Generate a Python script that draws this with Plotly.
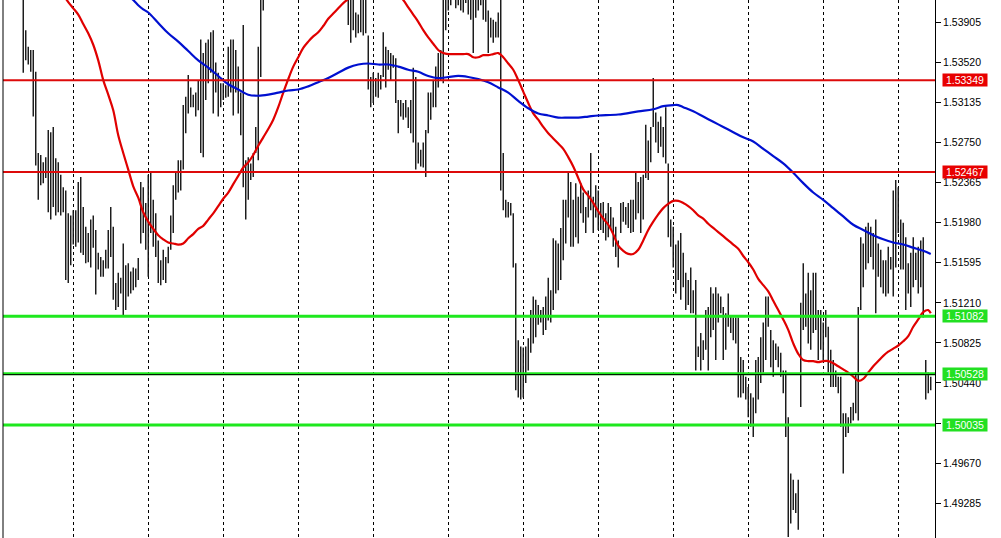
import plotly.graph_objects as go

# ---- price bars (high / low per bar) ----
HIGH = [
    1.5448, 1.5452, 1.5446, 1.5450, 1.5444, 1.5440, 1.5445, 1.5438, 1.5436, 1.5440,
    1.5431, 1.5383, 1.5367, 1.5364, 1.5364, 1.5343, 1.5265, 1.5263, 1.5256, 1.5261,
    1.5287, 1.5285, 1.5290, 1.5260, 1.5256, 1.5244, 1.5232, 1.5229, 1.5207, 1.5205,
    1.5210, 1.5210, 1.5237, 1.5242, 1.5213, 1.5194, 1.5188, 1.5201, 1.5205, 1.5191,
    1.5169, 1.5165, 1.5162, 1.5172, 1.5191, 1.5213, 1.5194, 1.5140, 1.5150, 1.5145,
    1.5178, 1.5157, 1.5159, 1.5151, 1.5155, 1.5154, 1.5164, 1.5237, 1.5232, 1.5217,
    1.5244, 1.5246, 1.5220, 1.5207, 1.5181, 1.5162, 1.5172, 1.5165, 1.5175, 1.5205,
    1.5234, 1.5246, 1.5258, 1.5258, 1.5311, 1.5319, 1.5340, 1.5328, 1.5321, 1.5323,
    1.5335, 1.5374, 1.5361, 1.5371, 1.5374, 1.5381, 1.5383, 1.5352, 1.5342, 1.5332,
    1.5332, 1.5330, 1.5367, 1.5374, 1.5374, 1.5364, 1.5348, 1.5323, 1.5388, 1.5258,
    1.5261, 1.5255, 1.5265, 1.5290, 1.5367, 1.5418, 1.5440, 1.5452, 1.5460, 1.5471,
    1.5478, 1.5490, 1.5486, 1.5495, 1.5502, 1.5498, 1.5510, 1.5505, 1.5512, 1.5508,
    1.5500, 1.5496, 1.5503, 1.5492, 1.5488, 1.5494, 1.5485, 1.5479, 1.5483, 1.5472,
    1.5468, 1.5474, 1.5465, 1.5458, 1.5462, 1.5455, 1.5450, 1.5456, 1.5449, 1.5446,
    1.5440, 1.5436, 1.5432, 1.5400, 1.5398, 1.5430, 1.5425, 1.5428, 1.5378, 1.5338,
    1.5342, 1.5337, 1.5342, 1.5340, 1.5381, 1.5367, 1.5364, 1.5361, 1.5359, 1.5356,
    1.5316, 1.5316, 1.5313, 1.5316, 1.5309, 1.5316, 1.5347, 1.5338, 1.5275, 1.5268,
    1.5275, 1.5287, 1.5323, 1.5323, 1.5335, 1.5348, 1.5361, 1.5364, 1.5430, 1.5438,
    1.5442, 1.5445, 1.5450, 1.5440, 1.5446, 1.5441, 1.5437, 1.5443, 1.5436, 1.5432,
    1.5428, 1.5430, 1.5436, 1.5440, 1.5431, 1.5429, 1.5402, 1.5395, 1.5393, 1.5391,
    1.5400, 1.5415, 1.5265, 1.5220, 1.5218, 1.5217, 1.5207, 1.5159, 1.5085, 1.5079,
    1.5078, 1.5079, 1.5087, 1.5114, 1.5127, 1.5124, 1.5119, 1.5114, 1.5117, 1.5127,
    1.5145, 1.5133, 1.5183, 1.5181, 1.5178, 1.5193, 1.5220, 1.5220, 1.5246, 1.5237,
    1.5220, 1.5236, 1.5223, 1.5236, 1.5227, 1.5213, 1.5229, 1.5265, 1.5223, 1.5234,
    1.5229, 1.5217, 1.5218, 1.5207, 1.5217, 1.5213, 1.5203, 1.5194, 1.5181, 1.5217,
    1.5218, 1.5213, 1.5217, 1.5220, 1.5220, 1.5247, 1.5237, 1.5242, 1.5244, 1.5292,
    1.5277, 1.5290, 1.5337, 1.5304, 1.5295, 1.5300, 1.5290, 1.5309, 1.5255, 1.5201,
    1.5194, 1.5177, 1.5181, 1.5188, 1.5169, 1.5150, 1.5143, 1.5155, 1.5133, 1.5143,
    1.5079, 1.5092, 1.5085, 1.5114, 1.5117, 1.5136, 1.5130, 1.5136, 1.5130, 1.5127,
    1.5117, 1.5111, 1.5130, 1.5109, 1.5107, 1.5107, 1.5107, 1.5069, 1.5066, 1.5050,
    1.5040, 1.5034, 1.5030, 1.5066, 1.5069, 1.5088, 1.5102, 1.5127, 1.5127, 1.5095,
    1.5085, 1.5082, 1.5079, 1.5073, 1.5056, 1.5056, 1.5011, 1.4957, 1.4951, 1.4938,
    1.4951, 1.5121, 1.5159, 1.5130, 1.5150, 1.5133, 1.5150, 1.5150, 1.5114, 1.5114,
    1.5102, 1.5114, 1.5098, 1.5076, 1.5066, 1.5056, 1.5050, 1.5050, 1.5015, 1.5015,
    1.5011, 1.5021, 1.5025, 1.5054, 1.5117, 1.5184, 1.5178, 1.5194, 1.5198, 1.5194,
    1.5188, 1.5201, 1.5178, 1.5172, 1.5162, 1.5162, 1.5175, 1.5165, 1.5229, 1.5239,
    1.5232, 1.5201, 1.5198, 1.5184, 1.5159, 1.5169, 1.5184, 1.5169, 1.5175, 1.5181,
    1.5184, 1.5066, 1.5054, 1.5050,
]
LOW = [
    1.5421, 1.5425, 1.5420, 1.5426, 1.5418, 1.5419, 1.5422, 1.5416, 1.5415, 1.5414,
    1.5342, 1.5354, 1.5350, 1.5343, 1.5300, 1.5253, 1.5220, 1.5234, 1.5236, 1.5241,
    1.5208, 1.5201, 1.5213, 1.5205, 1.5208, 1.5205, 1.5208, 1.5143, 1.5140, 1.5157,
    1.5177, 1.5175, 1.5179, 1.5169, 1.5167, 1.5159, 1.5160, 1.5155, 1.5174, 1.5129,
    1.5153, 1.5146, 1.5146, 1.5154, 1.5154, 1.5165, 1.5124, 1.5114, 1.5117, 1.5130,
    1.5109, 1.5114, 1.5127, 1.5130, 1.5133, 1.5136, 1.5143, 1.5178, 1.5188, 1.5172,
    1.5146, 1.5188, 1.5175, 1.5165, 1.5140, 1.5138, 1.5143, 1.5140, 1.5159, 1.5172,
    1.5188, 1.5220, 1.5227, 1.5229, 1.5249, 1.5284, 1.5303, 1.5309, 1.5309, 1.5300,
    1.5306, 1.5265, 1.5261, 1.5316, 1.5332, 1.5342, 1.5303, 1.5323, 1.5300, 1.5309,
    1.5316, 1.5318, 1.5319, 1.5323, 1.5301, 1.5323, 1.5303, 1.5282, 1.5232, 1.5201,
    1.5220, 1.5239, 1.5242, 1.5265, 1.5258, 1.5338, 1.5402, 1.5416, 1.5428, 1.5440,
    1.5449, 1.5455, 1.5458, 1.5466, 1.5470, 1.5468, 1.5475, 1.5479, 1.5482, 1.5474,
    1.5470, 1.5463, 1.5471, 1.5462, 1.5455, 1.5460, 1.5452, 1.5448, 1.5450, 1.5443,
    1.5436, 1.5440, 1.5432, 1.5427, 1.5430, 1.5424, 1.5421, 1.5425, 1.5419, 1.5417,
    1.5388, 1.5371, 1.5383, 1.5376, 1.5380, 1.5381, 1.5378, 1.5380, 1.5326, 1.5309,
    1.5313, 1.5319, 1.5318, 1.5326, 1.5338, 1.5328, 1.5345, 1.5335, 1.5347, 1.5313,
    1.5284, 1.5300, 1.5297, 1.5299, 1.5289, 1.5284, 1.5275, 1.5249, 1.5255, 1.5252,
    1.5251, 1.5242, 1.5284, 1.5297, 1.5309, 1.5309, 1.5328, 1.5335, 1.5332, 1.5383,
    1.5402, 1.5407, 1.5418, 1.5404, 1.5407, 1.5402, 1.5400, 1.5409, 1.5398, 1.5393,
    1.5361, 1.5395, 1.5402, 1.5407, 1.5393, 1.5391, 1.5361, 1.5376, 1.5371, 1.5376,
    1.5376, 1.5229, 1.5210, 1.5203, 1.5203, 1.5205, 1.5155, 1.5037, 1.5030, 1.5028,
    1.5030, 1.5044, 1.5056, 1.5073, 1.5082, 1.5088, 1.5100, 1.5102, 1.5090, 1.5095,
    1.5104, 1.5102, 1.5114, 1.5130, 1.5133, 1.5143, 1.5162, 1.5178, 1.5203, 1.5175,
    1.5175, 1.5184, 1.5178, 1.5207, 1.5198, 1.5188, 1.5203, 1.5210, 1.5188, 1.5203,
    1.5191, 1.5191, 1.5188, 1.5181, 1.5184, 1.5191, 1.5175, 1.5165, 1.5155, 1.5188,
    1.5199, 1.5196, 1.5193, 1.5188, 1.5189, 1.5201, 1.5207, 1.5188, 1.5201, 1.5241,
    1.5239, 1.5256, 1.5290, 1.5275, 1.5265, 1.5271, 1.5261, 1.5255, 1.5184, 1.5175,
    1.5155, 1.5130, 1.5143, 1.5124, 1.5136, 1.5114, 1.5119, 1.5111, 1.5111, 1.5056,
    1.5069, 1.5056, 1.5066, 1.5076, 1.5056, 1.5088, 1.5095, 1.5066, 1.5102, 1.5111,
    1.5066, 1.5076, 1.5098, 1.5092, 1.5085, 1.5082, 1.5030, 1.5030, 1.5034, 1.5028,
    1.5011, 1.5002, 1.4992, 1.5015, 1.5028, 1.5044, 1.5054, 1.5066, 1.5098, 1.5059,
    1.5050, 1.5066, 1.5059, 1.5050, 1.5034, 1.4992, 1.4896, 1.4909, 1.4922, 1.4919,
    1.4903, 1.5021, 1.5095, 1.5098, 1.5082, 1.5076, 1.5092, 1.5095, 1.5066, 1.5076,
    1.5066, 1.5088, 1.5054, 1.5040, 1.5040, 1.5040, 1.5034, 1.5002, 1.4957, 1.4992,
    1.4996, 1.5005, 1.5008, 1.5015, 1.5008, 1.5114, 1.5136, 1.5153, 1.5159, 1.5165,
    1.5153, 1.5111, 1.5146, 1.5136, 1.5130, 1.5127, 1.5130, 1.5153, 1.5127, 1.5155,
    1.5188, 1.5153, 1.5153, 1.5114, 1.5130, 1.5117, 1.5136, 1.5143, 1.5130, 1.5136,
    1.5107, 1.5028, 1.5034, 1.5037,
]

# ---- moving averages ----
RED_MA_BAR = list(range(26, 373, 2)) + [373]
RED_MA = [
    1.5417, 1.5410, 1.5404, 1.5398, 1.5389, 1.5380, 1.5369, 1.5354, 1.5335, 1.5321,
    1.5306, 1.5282, 1.5265, 1.5249, 1.5233, 1.5222, 1.5208, 1.5199, 1.5192, 1.5186,
    1.5182, 1.5179, 1.5178, 1.5177, 1.5178, 1.5183, 1.5187, 1.5192, 1.5195, 1.5201,
    1.5207, 1.5214, 1.5221, 1.5227, 1.5235, 1.5243, 1.5251, 1.5256, 1.5263, 1.5272,
    1.5280, 1.5288, 1.5297, 1.5309, 1.5323, 1.5336, 1.5348, 1.5357, 1.5366, 1.5372,
    1.5377, 1.5381, 1.5387, 1.5394, 1.5399, 1.5404, 1.5409, 1.5413, 1.5417, 1.5421,
    1.5425, 1.5428, 1.5430, 1.5431, 1.5430, 1.5427, 1.5422, 1.5417, 1.5412, 1.5405,
    1.5398, 1.5391, 1.5383, 1.5376, 1.5370, 1.5364, 1.5361, 1.5360, 1.5360, 1.5360,
    1.5360, 1.5360, 1.5357, 1.5357, 1.5359, 1.5359, 1.5360, 1.5361, 1.5357, 1.5351,
    1.5345, 1.5335, 1.5324, 1.5313, 1.5303, 1.5297, 1.5290, 1.5284, 1.5279, 1.5274,
    1.5269, 1.5261, 1.5252, 1.5241, 1.5230, 1.5224, 1.5217, 1.5209, 1.5202, 1.5196,
    1.5187, 1.5176, 1.5171, 1.5168, 1.5168, 1.5172, 1.5181, 1.5191, 1.5199, 1.5206,
    1.5212, 1.5216, 1.5219, 1.5219, 1.5217, 1.5214, 1.5210, 1.5205, 1.5202, 1.5197,
    1.5193, 1.5189, 1.5185, 1.5181, 1.5177, 1.5173, 1.5166, 1.5160, 1.5153, 1.5144,
    1.5138, 1.5132, 1.5123, 1.5114, 1.5105, 1.5095, 1.5082, 1.5072, 1.5066, 1.5065,
    1.5065, 1.5064, 1.5065, 1.5065, 1.5063, 1.5060, 1.5057, 1.5054, 1.5050, 1.5046,
    1.5048, 1.5054, 1.5060, 1.5065, 1.5070, 1.5074, 1.5077, 1.5080, 1.5084, 1.5089,
    1.5098, 1.5105, 1.5112, 1.5114,
    1.5111,
]
BLUE_MA_BAR = [
    50, 54, 56, 58, 60, 64, 68, 72, 76, 80, 84, 88, 92, 96, 100, 104, 108, 112, 116, 120,
    124, 128, 132, 136, 140, 144, 148, 152, 156, 160, 164, 168, 172, 176, 180, 184, 188,
    192, 196, 200, 204, 208, 212, 216, 220, 224, 228, 232, 236, 240, 248, 256, 262, 266,
    270, 272, 274, 278, 282, 286, 290, 294, 298, 302, 306, 310, 314, 318, 322, 326, 330,
    334, 338, 342, 346, 350, 354, 358, 362, 366, 370, 373,
]
BLUE_MA = [
    1.5420, 1.5412, 1.5407, 1.5403, 1.5400, 1.5390, 1.5380, 1.5372, 1.5363, 1.5354,
    1.5347, 1.5339, 1.5331, 1.5326, 1.5321, 1.5320, 1.5321, 1.5323, 1.5325, 1.5326,
    1.5329, 1.5333, 1.5337, 1.5342, 1.5347, 1.5350, 1.5351, 1.5350, 1.5350, 1.5348,
    1.5345, 1.5343, 1.5339, 1.5337, 1.5338, 1.5339, 1.5338, 1.5336, 1.5333, 1.5328,
    1.5323, 1.5315, 1.5308, 1.5303, 1.5301, 1.5299, 1.5299, 1.5299, 1.5300, 1.5301,
    1.5302, 1.5305, 1.5307, 1.5310, 1.5311, 1.5311, 1.5309, 1.5305, 1.5300, 1.5295,
    1.5290, 1.5285, 1.5280, 1.5276, 1.5269, 1.5262, 1.5255, 1.5246, 1.5236, 1.5227,
    1.5220, 1.5212, 1.5204, 1.5196, 1.5191, 1.5186, 1.5182, 1.5179, 1.5177, 1.5174,
    1.5171, 1.5168,
]

# ---- horizontal levels and axis ticks ----
RED_LEVELS = [1.53349, 1.52467]
GREEN_LEVELS = [1.51082, 1.50528, 1.50035]
BID_LEVEL = 1.50520
Y_TICKS = [1.53905, 1.53520, 1.53135, 1.52750, 1.52365, 1.51980, 1.51595,
           1.51210, 1.50825, 1.50440, 1.50055, 1.49670, 1.49285]
HIDDEN_TICKS = [1.50055]  # label fully covered by the 1.50035 marker

FONT = "Liberation Sans"

bx, by = [], []
for i, (h, l) in enumerate(zip(HIGH, LOW)):
    bx += [i, i, None]
    by += [l, h, None]

fig = go.Figure()
fig.add_trace(go.Scatter(x=bx, y=by, mode="lines",
                         line=dict(color="#111111", width=1.4),
                         hoverinfo="skip", showlegend=False))

for lv in RED_LEVELS:
    fig.add_hline(y=lv, line=dict(color="#dd0a0a", width=2), layer="above")
for lv in GREEN_LEVELS:
    fig.add_hline(y=lv, line=dict(color="#1ee81e", width=3), layer="above")
fig.add_hline(y=BID_LEVEL, line=dict(color="#000000", width=1), layer="above")

fig.add_trace(go.Scatter(x=RED_MA_BAR, y=RED_MA, mode="lines",
                         line=dict(color="#e00000", width=2.2, shape="spline"),
                         hoverinfo="skip", showlegend=False))
fig.add_trace(go.Scatter(x=BLUE_MA_BAR, y=BLUE_MA, mode="lines",
                         line=dict(color="#0010d0", width=2.2, shape="spline"),
                         hoverinfo="skip", showlegend=False))

for lv in RED_LEVELS:
    fig.add_annotation(x=1, xref="paper", xanchor="left", xshift=7,
                       y=lv, yref="y", yanchor="middle",
                       text=f"{lv:.5f}", showarrow=False,
                       font=dict(family=FONT, size=10.5, color="white"),
                       bgcolor="#e80000", width=44, height=12, borderpad=0)
for lv in GREEN_LEVELS:
    fig.add_annotation(x=1, xref="paper", xanchor="left", xshift=7,
                       y=lv, yref="y", yanchor="middle",
                       text=f"{lv:.5f}", showarrow=False,
                       font=dict(family=FONT, size=10.5, color="white"),
                       bgcolor="#22e022", width=44, height=12, borderpad=0)

fig.add_shape(type="line", xref="paper", yref="paper", x0=0, x1=0, y0=0, y1=1,
              line=dict(color="black", width=1))

fig.update_layout(
    width=1001, height=538,
    margin=dict(l=3, r=66, t=0, b=0, autoexpand=False),
    paper_bgcolor="white", plot_bgcolor="white",
    showlegend=False,
    xaxis=dict(range=[1.9, 374.7], showticklabels=False, ticks="",
               showgrid=True, gridcolor="black", gridwidth=1, griddash="3px,3px",
               tick0=0, dtick=30, zeroline=False, showline=False, fixedrange=True),
    yaxis=dict(range=[1.4895, 1.5412], side="right", tickvals=Y_TICKS,
               ticktext=["" if t in HIDDEN_TICKS else f"{t:.5f}" for t in Y_TICKS],
               ticks="outside", ticklen=5, tickcolor="black", tickwidth=1,
               showline=True, linecolor="black", linewidth=1,
               showgrid=False, zeroline=False,
               tickfont=dict(family=FONT, size=10.5, color="black"),
               fixedrange=True),
)

fig.write_html("out.html",
               config={"displayModeBar": False, "staticPlot": True},
               post_script="document.body.style.margin='0px';"
                           "document.body.style.overflow='hidden';")
